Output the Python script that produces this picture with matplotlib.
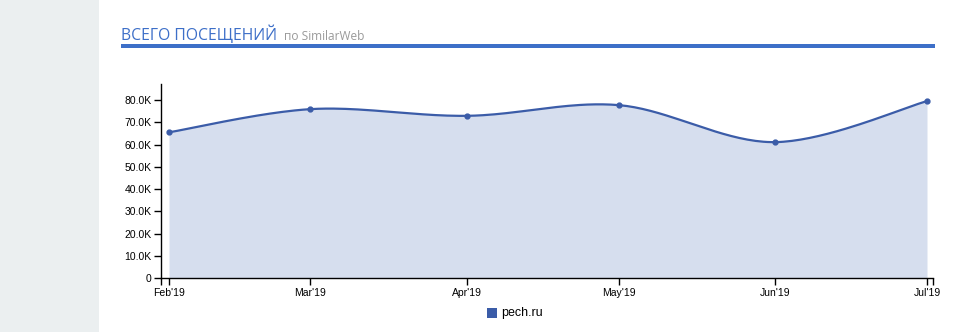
import numpy as np
import matplotlib.pyplot as plt
import matplotlib.dates as mdates
from matplotlib.patches import Rectangle
from datetime import datetime

# визиты по месяцам
months = ['2019-02-01', '2019-03-01', '2019-04-01', '2019-05-01', '2019-06-01', '2019-07-01']
visits = [65500, 75900, 72900, 77700, 61100, 79500]
tick_labels = ["Feb'19", "Mar'19", "Apr'19", "May'19", "Jun'19", "Jul'19"]
y_ticks = [0, 10000, 20000, 30000, 40000, 50000, 60000, 70000, 80000]
y_labels = ['0', '10.0K', '20.0K', '30.0K', '40.0K', '50.0K', '60.0K', '70.0K', '80.0K']

line_color = '#3b5ca8'
fill_color = '#d6deee'


def monotone_path(px, py, n=40):
    # кривая "monotone" как в d3 v3, считается в пикселях
    px = np.asarray(px, float)
    py = np.asarray(py, float)
    d = np.diff(py) / np.diff(px)
    m = np.empty_like(py)
    m[0] = d[0]
    m[-1] = d[-1]
    m[1:-1] = (d[:-1] + d[1:]) / 2
    for i in range(len(d)):
        if abs(d[i]) < 1e-6:
            m[i] = m[i + 1] = 0
        else:
            a = m[i] / d[i]
            b = m[i + 1] / d[i]
            s = a * a + b * b
            if s > 9:
                s = d[i] * 3 / np.sqrt(s)
                m[i] = s * a
                m[i + 1] = s * b
    j = len(px) - 1
    tx = np.array([(px[min(j, i + 1)] - px[max(0, i - 1)]) / (6 * (1 + m[i] ** 2))
                   for i in range(len(px))])
    ty = m * tx
    xs, ys = [], []
    t = np.linspace(0, 1, n)[:, None]
    for i in range(j):
        p0 = np.array([px[i], py[i]])
        p3 = np.array([px[i + 1], py[i + 1]])
        p1 = p0 + [tx[i], ty[i]]
        p2 = p3 - [tx[i + 1], ty[i + 1]]
        b = (1 - t) ** 3 * p0 + 3 * (1 - t) ** 2 * t * p1 + 3 * (1 - t) * t ** 2 * p2 + t ** 3 * p3
        xs.append(b[:, 0])
        ys.append(b[:, 1])
    return np.concatenate(xs), np.concatenate(ys)


dates = [datetime.strptime(d, '%Y-%m-%d') for d in months]
xnum = mdates.date2num(dates)

fig = plt.figure(figsize=(9.64, 3.32), dpi=100)
fig.patch.set_facecolor('white')

# серая колонка слева
fig.add_artist(Rectangle((0, 0), 99 / 964, 1, transform=fig.transFigure,
                         facecolor='#ebeff0', edgecolor='none'))

# заголовок и синяя полоса
fig.text(121 / 964, 1 - 40 / 332, 'ВСЕГО ПОСЕЩЕНИЙ', family='Open Sans',
         fontsize=11.3, color='#3d6fc8', va='baseline')
fig.text(284 / 964, 1 - 40 / 332, 'по SimilarWeb', family='Open Sans',
         fontsize=8.6, color='#9a9a9a', va='baseline')
fig.add_artist(Rectangle((121 / 964, 1 - 48 / 332), 814 / 964, 4 / 332,
                         transform=fig.transFigure, facecolor='#3d6fc8', edgecolor='none'))

ax = fig.add_axes([161 / 964, 1 - 278.3 / 332, (933 - 161) / 964, (278.3 - 84) / 332])

px_per_day = (927 - 169) / (xnum[-1] - xnum[0])
ax.set_xlim(xnum[0] - 8 / px_per_day, xnum[-1] + 6 / px_per_day)
ax.set_ylim(0, 80000 * (278.3 - 84) / (278.3 - 100))

# точки в пиксели, кривая, обратно в данные
pts = ax.transData.transform(np.column_stack([xnum, visits]))
cpx, cpy = monotone_path(pts[:, 0], pts[:, 1])
curve = ax.transData.inverted().transform(np.column_stack([cpx, cpy]))
cx, cy = curve[:, 0], curve[:, 1]

ax.fill_between(cx, 0, cy, color=fill_color, lw=0)
ax.plot(cx, cy, color=line_color, lw=1.6)
ax.plot(xnum, visits, 'o', color=line_color, ms=3.5)

ax.set_xticks(list(xnum) + [ax.get_xlim()[0], ax.get_xlim()[1]])
ax.set_xticklabels(tick_labels + ['', ''])
ax.set_yticks(y_ticks)
ax.set_yticklabels(y_labels)
ax.tick_params(labelsize=7.5, length=5, width=1, color='black', pad=2)
for lab in ax.get_xticklabels() + ax.get_yticklabels():
    lab.set_family('Liberation Sans')

ax.spines['top'].set_visible(False)
ax.spines['right'].set_visible(False)
ax.spines['left'].set_linewidth(1)
ax.spines['bottom'].set_linewidth(1)
ax.set_facecolor('none')

# легенда
fig.add_artist(Rectangle((487 / 964, 1 - 318 / 332), 10 / 964, 10 / 332,
                         transform=fig.transFigure, facecolor=line_color, edgecolor='none'))
fig.text(501 / 964, 1 - 313 / 332, 'pech.ru', family='Liberation Sans',
         fontsize=9, va='center', color='black')

plt.savefig('out.png', dpi=100)
